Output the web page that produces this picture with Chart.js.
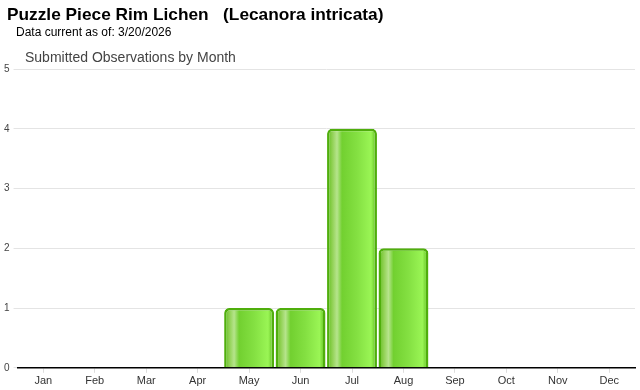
<!DOCTYPE html>
<html>
<head>
<meta charset="utf-8">
<script src="https://cdn.jsdelivr.net/npm/chart.js@4/dist/chart.umd.min.js"></script>
<style>
  body { margin: 0; background: #fff; font-family: Arial, "Liberation Sans", sans-serif; }
  #wrap { position: relative; width: 640px; height: 390px; }
  #chart { position: absolute; left: 0; top: 0; }
  .t1 { position: absolute; left: 7px; top: 4px; font-size: 17.3px; font-weight: bold; color: #000; white-space: pre; }
  .t2 { position: absolute; left: 16px; top: 25px; font-size: 12px; color: #000; }
  .t3 { position: absolute; left: 25px; top: 49px; font-size: 14px; color: #444; }
</style>
</head>
<body>
<div id="wrap">
  <canvas id="chart" width="640" height="390"></canvas>
  <div class="t1">Puzzle Piece Rim Lichen   (Lecanora intricata)</div>
  <div class="t2">Data current as of: 3/20/2026</div>
  <div class="t3">Submitted Observations by Month</div>
</div>
<script>
const months = ['Jan', 'Feb', 'Mar', 'Apr', 'May', 'Jun', 'Jul', 'Aug', 'Sep', 'Oct', 'Nov', 'Dec'];
const observations = [0, 0, 0, 0, 1, 1, 4, 2, 0, 0, 0, 0];
const yTicks = [0, 1, 2, 3, 4, 5];

// horizontal "glossy" gradient across each bar
function barGradient(c) {
    const chart = c.chart;
    const x = chart.scales && chart.scales.x;
    if (!chart.chartArea || !x) return '#7ed83a';
    const cx = x.getPixelForValue(c.dataIndex);
    const w = (x.width / months.length) * 0.97;
    const g = chart.ctx.createLinearGradient(cx - w / 2, 0, cx + w / 2, 0);
    g.addColorStop(0, '#5cbc1c');
    g.addColorStop(0.1, '#8ed050');
    g.addColorStop(0.2, '#b6e48c');
    g.addColorStop(0.3, '#72d030');
    g.addColorStop(0.6, '#84e042');
    g.addColorStop(0.88, '#9af555');
    g.addColorStop(1, '#58b818');
    return g;
}

const ctx = document.getElementById('chart').getContext('2d');
new Chart(ctx, {
    type: 'bar',
    data: {
        labels: months,
        datasets: [{
            data: observations,
            backgroundColor: barGradient,
            borderColor: '#4fae0c',
            borderWidth: 2.5,
            borderRadius: 5,
            borderSkipped: 'bottom',
            categoryPercentage: 1,
            barPercentage: 0.97
        }]
    },
    options: {
        responsive: false,
        animation: false,
        layout: { padding: { top: 69, left: 0, right: 5, bottom: 0 } },
        plugins: {
            legend: { display: false },
            tooltip: { enabled: false }
        },
        scales: {
            x: {
                grid: { offset: false, drawOnChartArea: false, drawTicks: true, tickLength: 5, tickColor: '#ddd' },
                border: { display: true, color: '#000', width: 1.5 },
                ticks: { color: '#333', font: { family: 'Arial', size: 11 }, padding: 2 }
            },
            y: {
                min: 0,
                max: 5,
                afterBuildTicks: axis => { axis.ticks = yTicks.map(v => ({ value: v })); },
                grid: { color: '#e4e4e4', tickLength: 4 },
                border: { display: false },
                ticks: { color: '#444', font: { family: 'Arial', size: 10 }, padding: 4 }
            }
        }
    }
});
</script>
</body>
</html>
